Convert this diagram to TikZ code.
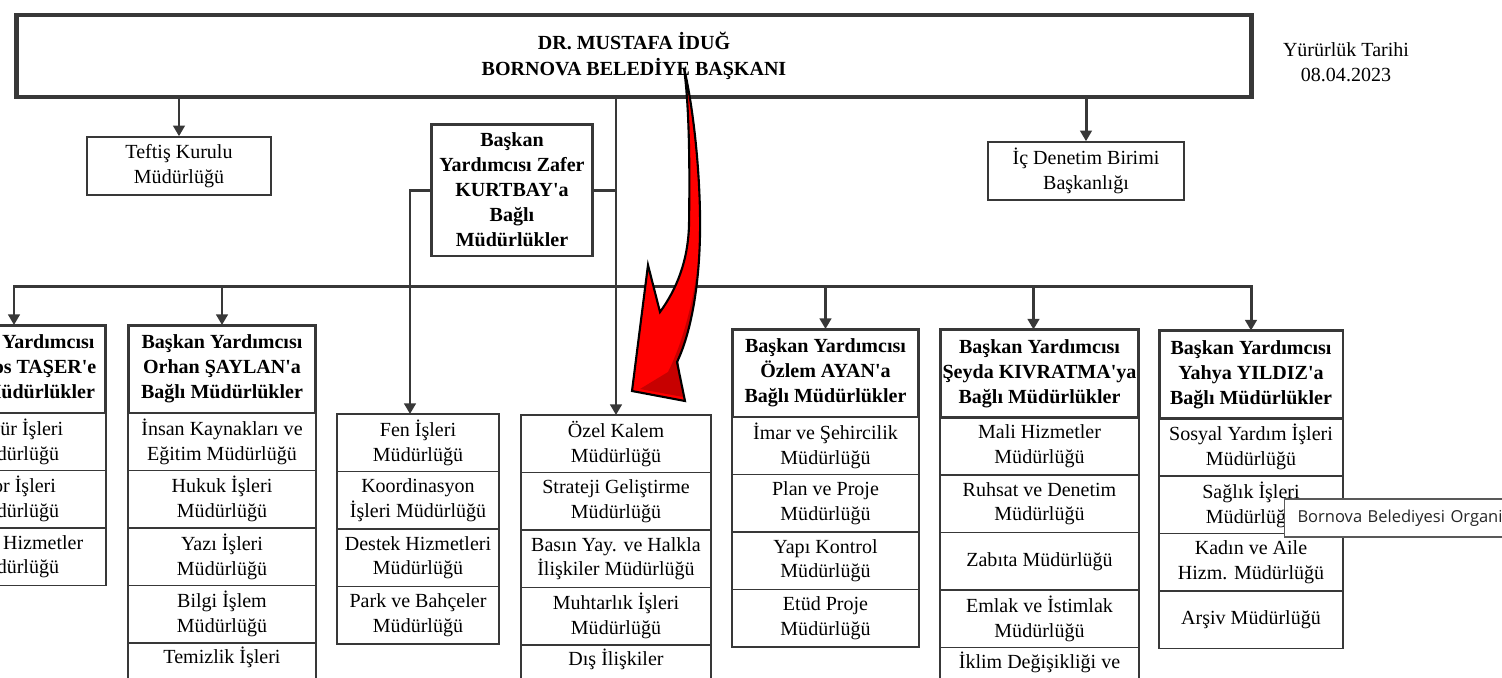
\documentclass[tikz,border=0pt]{standalone}
\usepackage{fontspec}
\setmainfont{Liberation Serif}
\newfontfamily\tipfont{Open Sans}
\usetikzlibrary{arrows.meta, positioning, calc}
\newcommand{\ap}{\textquotesingle}

\begin{document}
\begin{tikzpicture}[x=0.02cm, y=-0.02cm,
  font=\fontsize{11.4}{14.2}\selectfont,
  topbox/.style={rectangle, draw=black!78, line width=2.8pt, align=center,
                 font=\fontsize{11.4}{14.8}\selectfont\bfseries},
  hbox/.style={rectangle, draw=black!78, line width=1.7pt, outer sep=0pt, inner sep=1pt,
               align=center, minimum height=1.76cm, font=\fontsize{11.4}{14.2}\selectfont\bfseries},
  cbox/.style={rectangle, draw=black!78, line width=0.9pt, outer sep=0pt, inner sep=1pt,
               align=center, minimum height=1.15cm},
  sbox/.style={rectangle, draw=black!78, line width=0.9pt, inner sep=1pt,
               align=center, minimum height=1.16cm},
  tipbox/.style={rectangle, draw=black!65, line width=0.6pt, fill=white, text=black!85,
                 text width=4.6cm, align=left, inner xsep=0.26cm, minimum height=0.76cm,
                 font=\tipfont\fontsize{9.4}{11}\selectfont},
  line/.style={draw=black!78, line width=1.7pt},
  arr/.style={line, -{Triangle[width=6.5pt,length=6pt]}},
  arrr/.style={line, {Triangle[width=6.5pt,length=6pt]}-{Triangle[width=6.5pt,length=6pt]}}
]

\useasboundingbox (0,0) rectangle (1502,677);
\fill[white] (0,0) rectangle (1502,677);
\clip (0,0) rectangle (1502,677);

%% başkan
\node[topbox, minimum width=24.72cm, minimum height=1.64cm] (bsk) at (634,56)
  {DR. MUSTAFA İDUĞ\\BORNOVA BELEDİYE BAŞKANI\\[-12pt]};
\node[align=center] (yt) at (1346,62) {Yürürlük Tarihi\\08.04.2023};

\node[sbox, minimum width=3.68cm] (tk) at (179,166) {Teftiş Kurulu\\Müdürlüğü};
\node[sbox, minimum width=3.92cm] (ic) at (1086,171) {İç Denetim Birimi\\Başkanlığı};
\node[hbox, minimum width=3.24cm, minimum height=2.64cm] (kb) at (512,190)
  {Başkan\\Yardımcısı Zafer\\KURTBAY\ap a\\Bağlı\\Müdürlükler};

%% soldaki sütun (kesik)
\node[hbox, minimum width=3.68cm] (hL) at (14,369)
  {\hphantom{Başkan }Yardımcısı\\\hspace*{3.1em}os TAŞER\ap e\\Bağlı Müdürlükler};
\node[cbox, minimum width=3.68cm, below=0pt of hL] (l1) {\hphantom{Kült}ür İşleri\\Müdürlüğü};
\node[cbox, minimum width=3.68cm, below=0pt of l1] (l2) {\hphantom{Sp}or İşleri\\Müdürlüğü};
\node[cbox, minimum width=3.68cm, below=0pt of l2] (l3) {\hphantom{Sosya}l Hizmetler\\Müdürlüğü};

%% Orhan ŞAYLAN
\node[hbox, minimum width=3.76cm] (hO) at (222,369)
  {Başkan Yardımcısı\\Orhan ŞAYLAN\ap a\\Bağlı Müdürlükler};
\node[cbox, minimum width=3.76cm, below=0pt of hO] (o1) {İnsan Kaynakları ve\\Eğitim Müdürlüğü};
\node[cbox, minimum width=3.76cm, below=0pt of o1] (o2) {Hukuk İşleri\\Müdürlüğü};
\node[cbox, minimum width=3.76cm, below=0pt of o2] (o3) {Yazı İşleri\\Müdürlüğü};
\node[cbox, minimum width=3.76cm, below=0pt of o3] (o4) {Bilgi İşlem\\Müdürlüğü};
\node[cbox, minimum width=3.76cm, below=0pt of o4] (o5) {Temizlik İşleri\\\strut};

%% KURTBAY'a bağlı
\node[cbox, minimum width=3.24cm] (f1) at (418,442.75) {Fen İşleri\\Müdürlüğü};
\node[cbox, minimum width=3.24cm, below=0pt of f1] (f2) {Koordinasyon\\İşleri Müdürlüğü};
\node[cbox, minimum width=3.24cm, below=0pt of f2] (f3) {Destek Hizmetleri\\Müdürlüğü};
\node[cbox, minimum width=3.24cm, below=0pt of f3] (f4) {Park ve Bahçeler\\Müdürlüğü};

%% başkana bağlı
\node[cbox, minimum width=3.8cm] (z1) at (616,443.75) {Özel Kalem\\Müdürlüğü};
\node[cbox, minimum width=3.8cm, below=0pt of z1] (z2) {Strateji Geliştirme\\Müdürlüğü};
\node[cbox, minimum width=3.8cm, below=0pt of z2] (z3) {Basın Yay. ve Halkla\\İlişkiler Müdürlüğü};
\node[cbox, minimum width=3.8cm, below=0pt of z3] (z4) {Muhtarlık İşleri\\Müdürlüğü};
\node[cbox, minimum width=3.8cm, below=0pt of z4] (z5) {Dış İlişkiler\\\strut};

%% Özlem AYAN
\node[hbox, minimum width=3.74cm] (hA) at (825.5,373)
  {Başkan Yardımcısı\\Özlem AYAN\ap a\\Bağlı Müdürlükler};
\node[cbox, minimum width=3.74cm, below=0pt of hA] (a1) {İmar ve Şehircilik\\Müdürlüğü};
\node[cbox, minimum width=3.74cm, below=0pt of a1] (a2) {Plan ve Proje\\Müdürlüğü};
\node[cbox, minimum width=3.74cm, below=0pt of a2] (a3) {Yapı Kontrol\\Müdürlüğü};
\node[cbox, minimum width=3.74cm, below=0pt of a3] (a4) {Etüd Proje\\Müdürlüğü};

%% Şeyda KIVRATMA
\node[hbox, minimum width=3.98cm] (hK) at (1039.5,373.5)
  {Başkan Yardımcısı\\Şeyda KIVRATMA\ap ya\\Bağlı Müdürlükler};
\node[cbox, minimum width=3.98cm, below=0pt of hK] (k1) {Mali Hizmetler\\Müdürlüğü};
\node[cbox, minimum width=3.98cm, below=0pt of k1] (k2) {Ruhsat ve Denetim\\Müdürlüğü};
\node[cbox, minimum width=3.98cm, below=0pt of k2] (k3) {Zabıta Müdürlüğü};
\node[cbox, minimum width=3.98cm, below=0pt of k3] (k4) {Emlak ve İstimlak\\Müdürlüğü};
\node[cbox, minimum width=3.98cm, below=0pt of k4] (k5) {İklim Değişikliği ve\\\strut};

%% Yahya YILDIZ
\node[hbox, minimum width=3.68cm] (hY) at (1251,374.5)
  {Başkan Yardımcısı\\Yahya YILDIZ\ap a\\Bağlı Müdürlükler};
\node[cbox, minimum width=3.68cm, below=0pt of hY] (y1) {Sosyal Yardım İşleri\\Müdürlüğü};
\node[cbox, minimum width=3.68cm, below=0pt of y1] (y2) {Sağlık İşleri\\Müdürlüğü};
\node[cbox, minimum width=3.68cm, below=0pt of y2] (y3) {Kadın ve Aile\\Hizm. Müdürlüğü};
\node[cbox, minimum width=3.68cm, below=0pt of y3] (y4) {Arşiv Müdürlüğü};

%% bağlantılar
\coordinate (bus) at (614,286);
\draw[arr] (bsk.south -| tk.north) -- (tk.north);
\draw[arr] (bsk.south -| ic.north) -- (ic.north);
\draw[arr] (bsk.south -| z1.north) -- (z1.north);
\draw[line] (kb.east) -- (kb.east -| z1.north);
\draw[arr] (kb.west) -| ([xshift=-0.16cm]f1.north);
\draw[arrr] (hL.north) |- (bus) -| (hY.north);
\draw[arr] (hO.north |- bus) -- (hO.north);
\draw[arr] (hA.north |- bus) -- (hA.north);
\draw[arr] ([xshift=-0.12cm]hK.north |- bus) -- ([xshift=-0.12cm]hK.north);

%% kırmızı ok
\fill[red] (684,68) .. controls (694,110) and (701,180) .. (700,235)
  .. controls (699,290) and (690,335) .. (677,362) -- (685,401) -- (632,391)
  -- (648,265) -- (660,312) .. controls (676,290) and (688,262) .. (689,225)
  .. controls (690,160) and (689,105) .. (684,68) -- cycle;
\fill[red!78!black] (697,270) .. controls (694,310) and (688,335) .. (678,360)
  -- (683,397) -- (640,389) -- (668,372) .. controls (684,340) and (693,300) .. (697,270) -- cycle;
\draw[black, line width=1.2pt, line join=miter]
  (684,68) .. controls (694,110) and (701,180) .. (700,235)
  .. controls (699,290) and (690,335) .. (677,362) -- (685,401) -- (632,391)
  -- (648,265) -- (660,312) .. controls (676,290) and (688,262) .. (689,225)
  .. controls (690,160) and (689,105) .. (684,68) -- cycle;

%% araç ipucu
\node[tipbox, anchor=west] (tt) at (1284,518) {Bornova Belediyesi Organi};

\end{tikzpicture}
\end{document}
